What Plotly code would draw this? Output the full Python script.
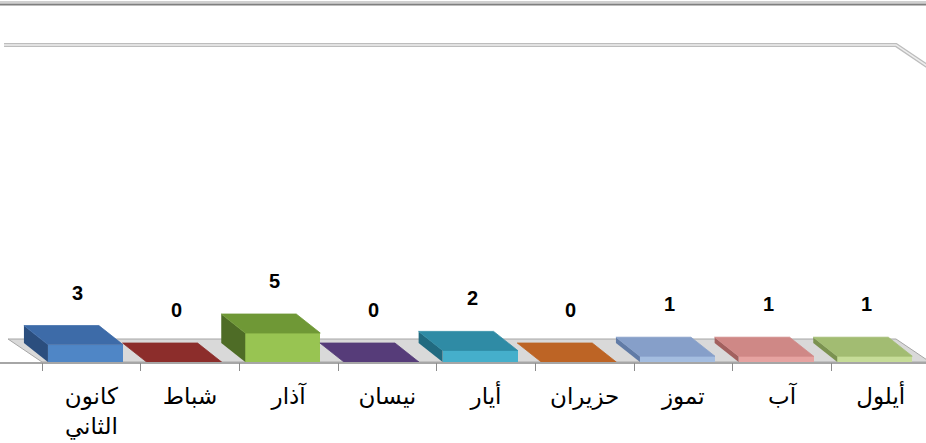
import plotly.graph_objects as go

# ---- data ----
months = ["كانون<br>الثاني", "شباط", "آذار", "نيسان", "أيار", "حزيران", "تموز", "آب", "أيلول"]
values = [3, 0, 5, 0, 2, 0, 1, 1, 1]
front_colors = ["#4f86c6", "#953735", "#98c452", "#5d4681", "#45afcb", "#c46a2c", "#a4bde0", "#e6a3a1", "#c6dc98"]
top_colors = ["#3d6ba8", "#8c2d2b", "#6f9836", "#563c79", "#2f8ba5", "#bd6425", "#869fc9", "#cf8886", "#a2bc72"]
side_colors = ["#2b4e7e", "#7a2624", "#4e6c26", "#45306a", "#216a80", "#a5561e", "#617ba6", "#a2605e", "#7b9250"]

# ---- geometry / style ----
W, H = 926, 443
PX_CAT = 98.67       # pixels per category
PX_VAL = 5.8         # pixels per value unit
AXIS_PX = 362        # pixel row of the category axis
LEFT_PX = 42         # pixel column of first category boundary
BAR_OFF, BAR_W = -0.44, 0.76
DX, DY = -24 / PX_CAT, 19 / PX_VAL            # bar depth offset
FDX, FDY = -34 / PX_CAT, 23 / PX_VAL          # floor/wall depth offset
WALL_TOP = (AXIS_PX - 45) / PX_VAL - FDY      # wall height (front-plane units)

n = len(values)
idx = list(range(n))
x_range = [-0.5 - LEFT_PX / PX_CAT, -0.5 + (W - LEFT_PX) / PX_CAT]
y_range = [0, AXIS_PX / PX_VAL]

fig = go.Figure()

# front faces
fig.add_trace(go.Bar(x=idx, y=values, width=BAR_W, offset=BAR_OFF,
                     marker=dict(color=front_colors, line=dict(width=0)),
                     hoverinfo="skip", showlegend=False))

# side and top faces
for i, v in enumerate(values):
    xl = i + BAR_OFF
    xr = xl + BAR_W
    if v > 0:
        fig.add_trace(go.Scatter(
            x=[xl, xl, xl + DX, xl + DX, xl], y=[0, v, v + DY, DY, 0],
            fill="toself", fillcolor=side_colors[i], mode="lines",
            line=dict(width=0, color=side_colors[i]), hoverinfo="skip", showlegend=False))
    fig.add_trace(go.Scatter(
        x=[xl, xr, xr + DX, xl + DX, xl], y=[v, v, v + DY, v + DY, v],
        fill="toself", fillcolor=top_colors[i], mode="lines",
        line=dict(width=0.8, color=top_colors[i]), hoverinfo="skip", showlegend=False))

# invisible trace for the tick axis
fig.add_trace(go.Scatter(x=[], y=[], xaxis="x2", showlegend=False))

# floor
x0, x1 = -0.5, n - 0.5
floor_path = f"M {x0},0 L {x1},0 L {x1 + FDX},{FDY} L {x0 + FDX},{FDY} Z"
fig.add_shape(type="path", path=floor_path, xref="x", yref="y", layer="below",
              fillcolor="#d9d9d9", line=dict(color="#a6a6a6", width=1))

# back wall top edge + right wall edge
wt = WALL_TOP + FDY
wall_path = f"M {x0 + FDX - 0.04},{wt} L {x1 + FDX},{wt} L {x1},{WALL_TOP}"
fig.add_shape(type="path", path=wall_path, xref="x", yref="y", layer="below",
              line=dict(color="#bdbdbd", width=4))
fig.add_shape(type="path", path=wall_path, xref="x", yref="y", layer="below",
              line=dict(color="#eeeeee", width=1.5))

# top border of chart area
fig.add_shape(type="line", xref="paper", yref="paper", x0=0, x1=1,
              y0=1 - 2 / AXIS_PX, y1=1 - 2 / AXIS_PX, line=dict(color="#d0d0d0", width=2))
fig.add_shape(type="line", xref="paper", yref="paper", x0=0, x1=1,
              y0=1 - 4.5 / AXIS_PX, y1=1 - 4.5 / AXIS_PX, line=dict(color="#7f7f7f", width=2))

# data labels
for i, v in enumerate(values):
    fig.add_annotation(x=i, y=v + DY, text=str(v), showarrow=False,
                       xshift=-14, yshift=33,
                       font=dict(family="Liberation Sans, Arial, sans-serif", size=20, color="black", weight="bold"))

fig.update_layout(
    width=W, height=H,
    margin=dict(l=0, r=0, t=0, b=H - AXIS_PX),
    paper_bgcolor="white", plot_bgcolor="white",
    showlegend=False, bargap=0,
    xaxis=dict(range=x_range, tickmode="array", tickvals=idx, ticktext=months,
               ticks="", showgrid=False, zeroline=False, showline=True,
               linecolor="#a6a6a6", linewidth=2, ticklabelstandoff=12,
               tickfont=dict(family="DejaVu Sans, sans-serif", size=23, color="black")),
    xaxis2=dict(range=x_range, overlaying="x", anchor="y", side="bottom",
                tickmode="array", tickvals=[k - 0.5 for k in range(n + 1)],
                ticks="outside", ticklen=8, tickcolor="#8c8c8c", tickwidth=1,
                showticklabels=False, showgrid=False, zeroline=False, showline=False),
    yaxis=dict(range=y_range, visible=False, showgrid=False, zeroline=False),
)

fig.write_html("out.html", config={"displayModeBar": False},
               post_script="document.body.style.margin='0';document.body.style.overflow='hidden';")
